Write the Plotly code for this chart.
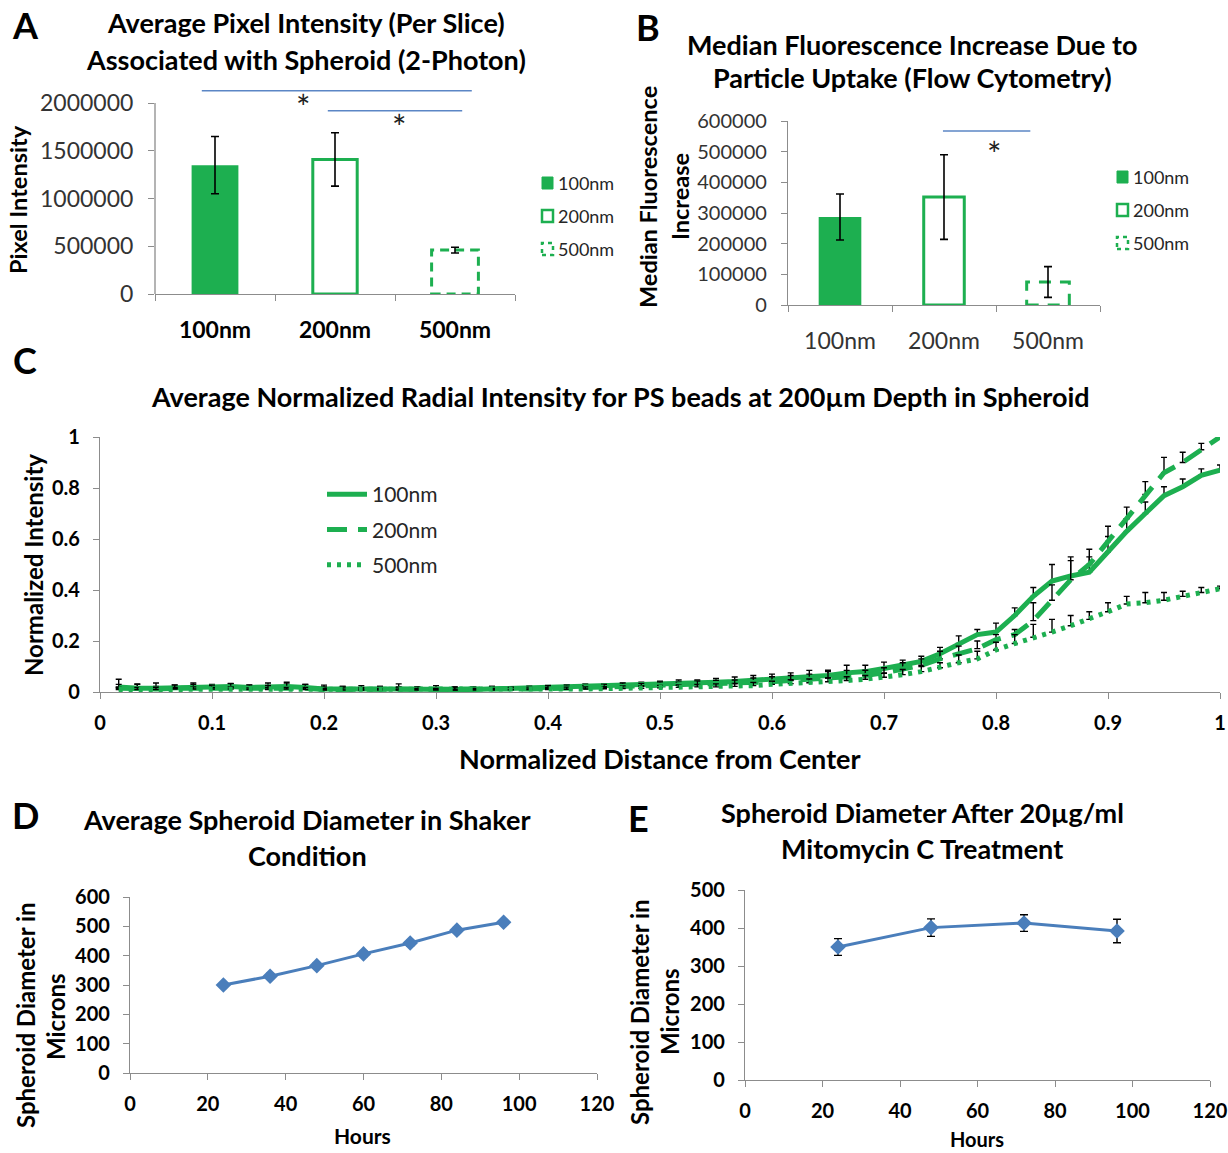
import plotly.graph_objects as go

W, H = 1228, 1153
GREEN = "#1daf50"
BLUE = "#4a7ebb"
SIGBLUE = "#5b86c5"
AXIS = "#8c8c8c"
FONT = "Lato"
TXT = "#262626"

# ---------------- data ----------------
sizes = ["100nm", "200nm", "500nm"]

# Panel A: average pixel intensity (2-photon)
a_vals = [1350000, 1410000, 460000]
a_err = [300000, 280000, 30000]
a_sig_lines = [(-0.11, 2.14, 2130000), (0.94, 2.06, 1920000)]
a_stars = [(0.73, 1960000), (1.53, 1760000)]
a_yticks = [0, 500000, 1000000, 1500000, 2000000]

# Panel B: median fluorescence increase (flow cytometry)
b_vals = [287000, 352000, 75000]
b_err = [75000, 138000, 50000]
b_sig_lines = [(0.99, 1.83, 567000)]
b_stars = [(1.48, 495000)]
b_yticks = [0, 100000, 200000, 300000, 400000, 500000, 600000]

# Panel C: normalized radial intensity
c_x = [0.0167, 0.0333, 0.05, 0.0667, 0.0833, 0.1, 0.1167, 0.1333, 0.15, 0.1667,
       0.1833, 0.2, 0.2167, 0.2333, 0.25, 0.2667, 0.2833, 0.3, 0.3167, 0.3333,
       0.35, 0.3667, 0.3833, 0.4, 0.4167, 0.4333, 0.45, 0.4667, 0.4833, 0.5,
       0.5167, 0.5333, 0.55, 0.5667, 0.5833, 0.6, 0.6167, 0.6333, 0.65, 0.6667,
       0.6833, 0.7, 0.7167, 0.7333, 0.75, 0.7667, 0.7833, 0.8, 0.8167, 0.8333,
       0.85, 0.8667, 0.8833, 0.9, 0.9167, 0.9333, 0.95, 0.9667, 0.9833, 1.0]
c_100 = [0.020, 0.015, 0.015, 0.018, 0.020, 0.020, 0.022, 0.018, 0.020, 0.022,
         0.018, 0.012, 0.012, 0.010, 0.012, 0.012, 0.010, 0.010, 0.010, 0.010,
         0.012, 0.012, 0.015, 0.016, 0.018, 0.020, 0.022, 0.024, 0.026, 0.030,
         0.032, 0.035, 0.038, 0.041, 0.045, 0.050, 0.055, 0.060, 0.065, 0.075,
         0.080, 0.092, 0.105, 0.120, 0.150, 0.190, 0.225, 0.235, 0.300, 0.375,
         0.435, 0.455, 0.470, 0.550, 0.630, 0.700, 0.770, 0.805, 0.850, 0.870]
c_200 = [0.015, 0.012, 0.012, 0.015, 0.015, 0.016, 0.018, 0.015, 0.016, 0.018,
         0.015, 0.010, 0.010, 0.008, 0.010, 0.010, 0.008, 0.008, 0.008, 0.009,
         0.010, 0.010, 0.012, 0.013, 0.015, 0.016, 0.018, 0.020, 0.022, 0.024,
         0.026, 0.028, 0.030, 0.032, 0.035, 0.040, 0.045, 0.050, 0.055, 0.060,
         0.065, 0.075, 0.090, 0.105, 0.130, 0.150, 0.170, 0.205, 0.225, 0.280,
         0.360, 0.440, 0.500, 0.590, 0.680, 0.775, 0.860, 0.900, 0.950, 1.000]
c_500 = [0.010, 0.010, 0.010, 0.012, 0.012, 0.012, 0.012, 0.010, 0.010, 0.012,
         0.010, 0.008, 0.008, 0.008, 0.008, 0.008, 0.008, 0.008, 0.008, 0.008,
         0.008, 0.009, 0.010, 0.010, 0.011, 0.012, 0.013, 0.014, 0.015, 0.016,
         0.018, 0.020, 0.020, 0.022, 0.025, 0.030, 0.033, 0.036, 0.040, 0.045,
         0.050, 0.058, 0.068, 0.080, 0.095, 0.115, 0.130, 0.165, 0.190, 0.215,
         0.235, 0.260, 0.285, 0.315, 0.345, 0.350, 0.360, 0.375, 0.390, 0.405]
c_err100 = [0.030, 0.015, 0.020, 0.010, 0.015, 0.010, 0.012, 0.010, 0.015, 0.010,
            0.012, 0.015, 0.010, 0.015, 0.010, 0.020, 0.010, 0.015, 0.010, 0.010,
            0.010, 0.008, 0.008, 0.010, 0.010, 0.012, 0.010, 0.010, 0.012, 0.012,
            0.015, 0.012, 0.015, 0.018, 0.020, 0.020, 0.020, 0.025, 0.020, 0.030,
            0.025, 0.025, 0.020, 0.020, 0.025, 0.030, 0.020, 0.035, 0.030, 0.035,
            0.065, 0.060, 0.060, 0.060, 0.050, 0.045, 0.035, 0.030, 0.025, 0.020]
c_err200 = [0.015, 0.020, 0.010, 0.012, 0.015, 0.010, 0.015, 0.012, 0.010, 0.020,
            0.015, 0.010, 0.012, 0.010, 0.012, 0.010, 0.012, 0.010, 0.012, 0.010,
            0.012, 0.010, 0.010, 0.012, 0.012, 0.010, 0.012, 0.015, 0.012, 0.015,
            0.012, 0.015, 0.015, 0.015, 0.020, 0.020, 0.020, 0.020, 0.025, 0.025,
            0.020, 0.020, 0.025, 0.025, 0.030, 0.030, 0.030, 0.020, 0.020, 0.070,
            0.060, 0.090, 0.060, 0.060, 0.045, 0.050, 0.060, 0.040, 0.025, 0.020]
c_err500 = [0.008, 0.008, 0.008, 0.006, 0.008, 0.006, 0.008, 0.006, 0.008, 0.006,
            0.008, 0.006, 0.008, 0.006, 0.006, 0.008, 0.006, 0.006, 0.008, 0.006,
            0.006, 0.008, 0.006, 0.008, 0.008, 0.008, 0.008, 0.010, 0.010, 0.010,
            0.010, 0.010, 0.012, 0.012, 0.012, 0.012, 0.015, 0.015, 0.015, 0.015,
            0.015, 0.015, 0.020, 0.020, 0.020, 0.030, 0.030, 0.030, 0.035, 0.050,
            0.050, 0.040, 0.030, 0.035, 0.030, 0.040, 0.030, 0.020, 0.020, 0.010]

# Panel D: shaker condition
d_hours = [24, 36, 48, 60, 72, 84, 96]
d_diam = [300, 330, 366, 406, 443, 487, 514]
d_err = [8, 9, 9, 9, 9, 9, 8]

# Panel E: mitomycin C
e_hours = [24, 48, 72, 96]
e_diam = [350, 401, 413, 392]
e_err = [22, 23, 22, 31]


# ---------------- helpers ----------------
def px(x):
    return x / W


def py(y):
    return 1 - y / H


annotations = []
shapes = []


def text(x, y, s, size, bold=True, xanchor="center", angle=0, color="black"):
    annotations.append(dict(
        x=px(x), y=py(y), xref="paper", yref="paper", text=s, showarrow=False,
        xanchor=xanchor, yanchor="middle", textangle=angle,
        font=dict(family=FONT, size=size, color=color, weight=700 if bold else 400)))


def axis_common(**kw):
    d = dict(showline=True, linecolor=AXIS, linewidth=1.3, ticks="outside",
             tickcolor=AXIS, ticklen=6, tickwidth=1.3, showgrid=False,
             zeroline=False, fixedrange=True, automargin=False)
    d.update(kw)
    return d


fig = go.Figure()

# ---------------- Panel A ----------------
BW_A = 0.39
err_a = dict(type="data", color="black", thickness=1.6, width=4)
fig.add_trace(go.Bar(x=[sizes[0]], y=[a_vals[0]], width=BW_A, marker=dict(color=GREEN, line=dict(width=0)),
                     error_y=dict(array=[a_err[0]], **err_a), xaxis="x", yaxis="y", showlegend=False))
fig.add_trace(go.Bar(x=[sizes[1]], y=[a_vals[1]], width=BW_A - 0.02,
                     marker=dict(color="white", line=dict(color=GREEN, width=3)),
                     error_y=dict(array=[a_err[1]], **err_a), xaxis="x", yaxis="y", showlegend=False))
fig.add_trace(go.Bar(x=[sizes[2]], y=[a_vals[2]], width=BW_A,
                     marker=dict(color="rgba(0,0,0,0)", line=dict(width=0)),
                     error_y=dict(array=[a_err[2]], **err_a), xaxis="x", yaxis="y", showlegend=False))
shapes.append(dict(type="rect", xref="x", yref="y", x0=2 - BW_A / 2, x1=2 + BW_A / 2,
                   y0=0, y1=a_vals[2], line=dict(color=GREEN, width=3, dash="9px,6px"), layer="below"))
shapes.append(dict(type="line", xref="x domain", yref="y", x0=0, x1=0, y0=0, y1=a_yticks[-1],
                   line=dict(color=AXIS, width=1.3)))
for x0, x1, yv in a_sig_lines:
    shapes.append(dict(type="line", xref="x", yref="y", x0=x0, x1=x1, y0=yv, y1=yv,
                       line=dict(color=SIGBLUE, width=1.5)))
for xs, ys in a_stars:
    annotations.append(dict(x=xs, y=ys, xref="x", yref="y", text="*", showarrow=False,
                            font=dict(family=FONT, size=34, color="#222")))

# ---------------- Panel B ----------------
BW_B = 0.41
fig.add_trace(go.Bar(x=[sizes[0]], y=[b_vals[0]], width=BW_B, marker=dict(color=GREEN, line=dict(width=0)),
                     error_y=dict(array=[b_err[0]], **err_a), xaxis="x2", yaxis="y2", showlegend=False))
fig.add_trace(go.Bar(x=[sizes[1]], y=[b_vals[1]], width=BW_B - 0.02,
                     marker=dict(color="white", line=dict(color=GREEN, width=3)),
                     error_y=dict(array=[b_err[1]], **err_a), xaxis="x2", yaxis="y2", showlegend=False))
fig.add_trace(go.Bar(x=[sizes[2]], y=[b_vals[2]], width=BW_B,
                     marker=dict(color="rgba(0,0,0,0)", line=dict(width=0)),
                     error_y=dict(array=[b_err[2]], **err_a), xaxis="x2", yaxis="y2", showlegend=False))
shapes.append(dict(type="rect", xref="x2", yref="y2", x0=2 - BW_B / 2, x1=2 + BW_B / 2,
                   y0=0, y1=b_vals[2], line=dict(color=GREEN, width=3, dash="12px,9px"), layer="below"))
for x0, x1, yv in b_sig_lines:
    shapes.append(dict(type="line", xref="x2", yref="y2", x0=x0, x1=x1, y0=yv, y1=yv,
                       line=dict(color=SIGBLUE, width=1.5)))
for xs, ys in b_stars:
    annotations.append(dict(x=xs, y=ys, xref="x2", yref="y2", text="*", showarrow=False,
                            font=dict(family=FONT, size=34, color="#222")))

# manual legends for A and B
def bar_legend(x_sq, x_txt, ys, fsize):
    styles = [dict(fillcolor=GREEN, line=dict(color=GREEN, width=1)),
              dict(fillcolor="white", line=dict(color=GREEN, width=2.5)),
              dict(fillcolor="white", line=dict(color=GREEN, width=2.5, dash="4px,4px"))]
    for name, y, st in zip(sizes, ys, styles):
        shapes.append(dict(type="rect", xref="paper", yref="paper",
                           x0=px(x_sq), x1=px(x_sq + 11), y0=py(y + 6), y1=py(y - 6), **st))
        text(x_txt, y, name, fsize, bold=False, xanchor="left", color=TXT)

bar_legend(542, 556, [183, 216, 249], 18)
bar_legend(1117, 1131, [177, 210, 243], 18)

# ---------------- Panel C ----------------
def err_c(arr):
    return dict(type="data", symmetric=False, array=arr, arrayminus=[0] * len(arr),
                color="black", thickness=1.4, width=3)

fig.add_trace(go.Scatter(x=c_x, y=c_100, mode="lines", name="100nm", legendgroup="g1",
                         line=dict(color=GREEN, width=5), error_y=err_c(c_err100),
                         xaxis="x3", yaxis="y3", legend="legend"))
fig.add_trace(go.Scatter(x=c_x, y=c_200, mode="lines", name="200nm", legendgroup="g2",
                         line=dict(color=GREEN, width=5, dash="20px,11px"), error_y=err_c(c_err200),
                         xaxis="x3", yaxis="y3", legend="legend"))
fig.add_trace(go.Scatter(x=c_x, y=c_500, mode="lines", name="500nm", legendgroup="g3",
                         line=dict(color=GREEN, width=5, dash="4px,6px"), error_y=err_c(c_err500),
                         xaxis="x3", yaxis="y3", legend="legend"))

# ---------------- Panel D ----------------
err_de = dict(type="data", color="black", thickness=1.4, width=4)
fig.add_trace(go.Scatter(x=d_hours, y=d_diam, mode="lines+markers",
                         line=dict(color=BLUE, width=3),
                         marker=dict(symbol="diamond", size=12, color=BLUE),
                         error_y=dict(array=d_err, **err_de), xaxis="x4", yaxis="y4", showlegend=False))

# ---------------- Panel E ----------------
fig.add_trace(go.Scatter(x=e_hours, y=e_diam, mode="lines+markers",
                         line=dict(color=BLUE, width=3),
                         marker=dict(symbol="diamond", size=12, color=BLUE),
                         error_y=dict(array=e_err, **err_de), xaxis="x5", yaxis="y5", showlegend=False))

# ---------------- text ----------------
# panel letters
text(25, 25, "A", 36)
text(648, 27, "B", 36)
text(25, 360, "C", 36)
text(25, 815, "D", 36)
text(638, 818, "E", 36)

# titles
TS = 27
text(306, 22, "Average Pixel Intensity (Per Slice)", TS)
text(306, 59, "Associated with Spheroid (2-Photon)", TS)
text(912, 45, "Median Fluorescence Increase Due to", TS)
text(912, 78, "Particle Uptake (Flow Cytometry)", TS)
text(620, 396, "Average Normalized Radial Intensity for PS beads at 200µm Depth in Spheroid", TS)
text(307, 820, "Average Spheroid Diameter in Shaker", TS)
text(307, 855, "Condition", TS)
text(922, 812, "Spheroid Diameter After 20µg/ml", TS)
text(922, 848, "Mitomycin C Treatment", TS)

# axis titles
text(18, 200, "Pixel Intensity", 23.5, angle=-90)
text(648, 197, "Median Fluorescence", 23.5, angle=-90)
text(680, 197, "Increase", 23.5, angle=-90)
text(33, 565, "Normalized Intensity", 24, angle=-90)
text(660, 758, "Normalized Distance from Center", 27)
text(25, 1015, "Spheroid Diameter in", 24, angle=-90)
text(55, 1017, "Microns", 24, angle=-90)
text(362, 1135, "Hours", 21)
text(640, 1012, "Spheroid Diameter in", 24, angle=-90)
text(670, 1012, "Microns", 24, angle=-90)
text(977, 1139, "Hours", 20)

bold_tick = dict(family=FONT, size=20, color="black", weight=700)

layout = dict(
    width=W, height=H, autosize=False,
    margin=dict(l=0, r=0, t=0, b=0, autoexpand=False),
    paper_bgcolor="white", plot_bgcolor="white",
    barmode="overlay",
    font=dict(family=FONT, color=TXT),
    # Panel A
    xaxis=axis_common(domain=[px(155), px(515)], anchor="y", type="category",
                      categoryorder="array", categoryarray=sizes, range=[-0.5, 2.5],
                      tickson="boundaries", ticklen=6,
                      tickfont=dict(family=FONT, size=23, color="black", weight=700),
                      ticklabelstandoff=15),
    yaxis=axis_common(domain=[py(294), py(84)], anchor="x", range=[0, 2200000],
                      tickvals=a_yticks, tickformat="d", showline=False,
                      tickfont=dict(family=FONT, size=23, color="#333", weight=400),
                      ticklabelstandoff=10),
    # Panel B
    xaxis2=axis_common(domain=[px(788), px(1100)], anchor="y2", type="category",
                       categoryorder="array", categoryarray=sizes, range=[-0.5, 2.5],
                       tickson="boundaries", ticklen=6,
                       tickfont=dict(family=FONT, size=23, color="#333", weight=400),
                       ticklabelstandoff=15),
    yaxis2=axis_common(domain=[py(305), py(121)], anchor="x2", range=[0, 600000],
                       tickvals=b_yticks, tickformat="d",
                       tickfont=dict(family=FONT, size=20, color="#333", weight=400),
                       ticklabelstandoff=10),
    # Panel C
    xaxis3=axis_common(domain=[px(100), px(1220)], anchor="y3", range=[0, 1], dtick=0.1,
                       tickfont=bold_tick, ticklabelstandoff=7),
    yaxis3=axis_common(domain=[py(692), py(437)], anchor="x3", range=[0, 1], dtick=0.2,
                       tickfont=bold_tick, ticklabelstandoff=9),
    # Panel D
    xaxis4=axis_common(domain=[px(130), px(597)], anchor="y4", range=[0, 120], dtick=20,
                       tickfont=bold_tick, ticklabelstandoff=7),
    yaxis4=axis_common(domain=[py(1073), py(897)], anchor="x4", range=[0, 600], dtick=100,
                       tickfont=bold_tick, ticklabelstandoff=9),
    # Panel E
    xaxis5=axis_common(domain=[px(745), px(1210)], anchor="y5", range=[0, 120], dtick=20,
                       tickfont=bold_tick, ticklabelstandoff=7),
    yaxis5=axis_common(domain=[py(1080), py(890)], anchor="x5", range=[0, 500], dtick=100,
                       tickfont=bold_tick, ticklabelstandoff=9),
    legend=dict(x=px(322), y=py(474), xanchor="left", yanchor="top",
                bgcolor="rgba(0,0,0,0)", font=dict(family=FONT, size=21, color=TXT),
                tracegroupgap=5, itemwidth=40),
    annotations=annotations,
    shapes=shapes,
)
fig.update_layout(**layout)

fig.write_html("out.html", config={"displayModeBar": False},
               post_script="document.body.style.margin='0';document.body.style.overflow='hidden';")
